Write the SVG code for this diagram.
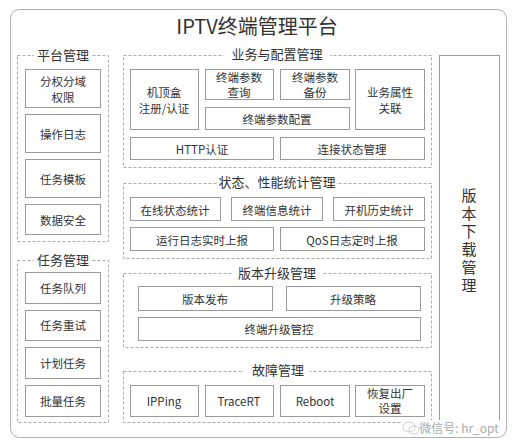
<svg xmlns="http://www.w3.org/2000/svg" width="515" height="448" viewBox="0 0 515 448">
<style>
text{font-family:"Noto Sans CJK SC","Liberation Sans",sans-serif;fill:#333;text-anchor:middle;dominant-baseline:central}
.box{fill:#fff;stroke:#9a9a9a;stroke-width:1}
.grp{fill:none;stroke:#aaa;stroke-width:1;stroke-dasharray:3 2}
.gl{font-size:13px}
.t{font-size:11.5px}
.lb{fill:#fff;stroke:none}
</style>
<rect width="515" height="448" fill="#fff"/>
<g id="frame">
<rect x="10.5" y="9.5" width="496" height="428" rx="9" fill="#fff" stroke="#b0b0b0"/>
<text x="257" y="25" font-size="20">IPTV终端管理平台</text>
</g>
<g id="platform">
<rect class="grp" x="17.5" y="55.5" width="91" height="186"/>
<rect class="lb" x="34" y="47" width="58" height="16"/>
<text class="gl" x="63" y="54">平台管理</text>
<g id="n1"><rect class="box" x="25.5" y="69.5" width="75" height="38"/><text class="t" x="63" y="81">分权分域</text><text class="t" x="63" y="97">权限</text></g>
<g id="n2"><rect class="box" x="25.5" y="114.5" width="75" height="38"/><text class="t" x="63" y="134">操作日志</text></g>
<g id="n3"><rect class="box" x="25.5" y="159.5" width="75" height="38"/><text class="t" x="63" y="179">任务模板</text></g>
<g id="n4"><rect class="box" x="25.5" y="204.5" width="75" height="30"/><text class="t" x="63" y="220">数据安全</text></g>
</g>
<g id="task">
<rect class="grp" x="17.5" y="260.5" width="91" height="162"/>
<rect class="lb" x="34" y="252" width="58" height="16"/>
<text class="gl" x="63" y="259">任务管理</text>
<g id="n5"><rect class="box" x="25.5" y="272.5" width="75" height="31"/><text class="t" x="63" y="288">任务队列</text></g>
<g id="n6"><rect class="box" x="25.5" y="310.5" width="75" height="30"/><text class="t" x="63" y="325">任务重试</text></g>
<g id="n7"><rect class="box" x="25.5" y="347.5" width="75" height="31"/><text class="t" x="63" y="363">计划任务</text></g>
<g id="n8"><rect class="box" x="25.5" y="385.5" width="75" height="31"/><text class="t" x="63" y="401">批量任务</text></g>
</g>
<g id="biz">
<rect class="grp" x="123.5" y="55.5" width="308" height="112"/>
<rect class="lb" x="224" y="47" width="106" height="16"/>
<text class="gl" x="277" y="53">业务与配置管理</text>
<g id="b1"><rect class="box" x="130.5" y="69.5" width="68" height="60"/><text class="t" x="164" y="92">机顶盒</text><text class="t" x="164" y="108">注册/认证</text></g>
<g id="b2"><rect class="box" x="205.5" y="69.5" width="68" height="30"/><text class="t" x="239" y="77">终端参数</text><text class="t" x="239" y="92">查询</text></g>
<g id="b3"><rect class="box" x="280.5" y="69.5" width="69" height="30"/><text class="t" x="315" y="77">终端参数</text><text class="t" x="315" y="92">备份</text></g>
<g id="b4"><rect class="box" x="205.5" y="107.5" width="144" height="22"/><text class="t" x="277" y="119">终端参数配置</text></g>
<g id="b5"><rect class="box" x="355.5" y="69.5" width="69" height="60"/><text class="t" x="390" y="92">业务属性</text><text class="t" x="390" y="108">关联</text></g>
<g id="b6"><rect class="box" x="130.5" y="137.5" width="143" height="22"/><text class="t" x="202" y="149">HTTP认证</text></g>
<g id="b7"><rect class="box" x="280.5" y="137.5" width="144" height="22"/><text class="t" x="352" y="149">连接状态管理</text></g>
</g>
<g id="stat">
<rect class="grp" x="123.5" y="183.5" width="308" height="75"/>
<rect class="lb" x="218" y="175" width="118" height="16"/>
<text class="gl" x="277" y="181">状态、性能统计管理</text>
<g id="s1"><rect class="box" x="130.5" y="197.5" width="90" height="23"/><text class="t" x="175" y="210">在线状态统计</text></g>
<g id="s2"><rect class="box" x="231.5" y="197.5" width="91" height="23"/><text class="t" x="277" y="210">终端信息统计</text></g>
<g id="s3"><rect class="box" x="333.5" y="197.5" width="91" height="23"/><text class="t" x="379" y="210">开机历史统计</text></g>
<g id="s4"><rect class="box" x="130.5" y="227.5" width="143" height="23"/><text class="t" x="202" y="240">运行日志实时上报</text></g>
<g id="s5"><rect class="box" x="280.5" y="227.5" width="144" height="23"/><text class="t" x="352" y="240">QoS日志定时上报</text></g>
</g>
<g id="ver">
<rect class="grp" x="123.5" y="273.5" width="308" height="74"/>
<rect class="lb" x="232" y="265" width="90" height="16"/>
<text class="gl" x="277" y="272">版本升级管理</text>
<g id="v1"><rect class="box" x="138.5" y="286.5" width="134" height="24"/><text class="t" x="205" y="299">版本发布</text></g>
<g id="v2"><rect class="box" x="286.5" y="286.5" width="134" height="24"/><text class="t" x="353" y="299">升级策略</text></g>
<g id="v3"><rect class="box" x="138.5" y="317.5" width="282" height="23"/><text class="t" x="279" y="329">终端升级管控</text></g>
</g>
<g id="fault">
<rect class="grp" x="123.5" y="371.5" width="308" height="51"/>
<rect class="lb" x="244" y="363" width="66" height="16"/>
<text class="gl" x="278" y="369">故障管理</text>
<g id="f1"><rect class="box" x="130.5" y="385.5" width="68" height="31"/><text class="t" x="164" y="401">IPPing</text></g>
<g id="f2"><rect class="box" x="205.5" y="385.5" width="68" height="31"/><text class="t" x="239" y="401">TraceRT</text></g>
<g id="f3"><rect class="box" x="280.5" y="385.5" width="69" height="31"/><text class="t" x="315" y="401">Reboot</text></g>
<g id="f4"><rect class="box" x="355.5" y="385.5" width="69" height="31"/><text class="t" x="390" y="393">恢复出厂</text><text class="t" x="390" y="408">设置</text></g>
</g>
<g id="download">
<rect class="box" x="439.5" y="55.5" width="60" height="366"/>
<text font-size="15" x="469" y="188" writing-mode="vertical-rl" letter-spacing="3" style="text-anchor:start">版本下载管理</text>
</g>
<g id="connectors"></g>
<g id="watermark">
<rect x="402" y="420" width="98" height="15" fill="#fff"/>
<ellipse cx="409" cy="427" rx="6" ry="5" fill="none" stroke="#ccc"/>
<ellipse cx="414" cy="430" rx="5" ry="4" fill="none" stroke="#ccc"/>
<text x="459" y="427" font-size="12" style="fill:#aaa">微信号: hr_opt</text>
</g>
</svg>
